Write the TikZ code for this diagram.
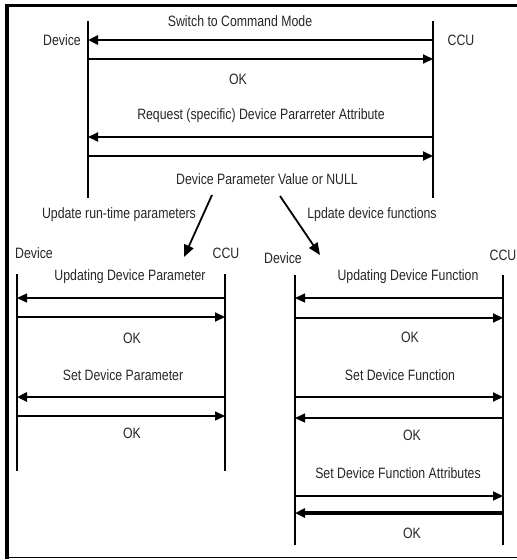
\documentclass[tikz,border=0pt]{standalone}
\usepackage{fontspec}
\setmainfont{Liberation Sans}[FakeStretch=0.82]
\usetikzlibrary{arrows.meta}
\begin{document}
\begin{tikzpicture}[x=1pt,y=-1pt,
  lifeline/.style={line width=1.4pt},
  tip/.style={-{Triangle[length=10pt,width=9pt]}},
  msg/.style={tip,line width=2pt},
  msgthin/.style={tip,line width=1.3pt},
  msgbold/.style={tip,line width=2.8pt},
  msgheavy/.style={tip,line width=3.6pt},
  cue/.style={line width=1.8pt,-{Triangle[length=12pt,width=10pt]}},
  lbl/.style={font=\fontsize{15}{17}\selectfont,inner sep=0pt,text=black!85}]
\useasboundingbox (0,0) rectangle (517,560);

% frame: heavy left edge, top rule, thin bottom rule
\draw[line width=3.5pt] (7,3.5) -- (7,559);
\draw[line width=2.5pt] (5.5,5.3) -- (517,5.3);
\draw[line width=1.5pt] (5.5,557.5) -- (517,557.5);

% ---------- command mode exchange ----------
\coordinate (dA1) at (88,21);  \coordinate (dA2) at (88,198);
\coordinate (cA1) at (433,21); \coordinate (cA2) at (433,198);
\draw[lifeline] (dA1) -- (dA2);
\draw[lifeline] (cA1) -- (cA2);

\node[lbl] (tSwitch) at (240,21) {Switch to Command Mode};
\node[lbl] (tDevA) at (62,40) {Device};
\node[lbl] (tCcuA) at (461,40) {CCU};
\node[lbl] (tOkA) at (238,79) {OK};
\node[lbl] (tReq) at (261,116) {Request (specific) Device Pararreter Attribute};
\node[lbl] (tVal) at (267,179) {Device Parameter Value or NULL};

\draw[msgbold] (cA1 |- 0,40) -- (dA1 |- 0,40);
\draw[msg] (dA1 |- 0,59) -- (cA1 |- 0,59);
\draw[msg] (cA1 |- 0,137) -- (dA1 |- 0,137);
\draw[msg] (dA1 |- 0,156) -- (cA1 |- 0,156);

% ---------- branch arrows ----------
\coordinate (bL1) at (212,195); \coordinate (bL2) at (184,257);
\coordinate (bR1) at (280,196); \coordinate (bR2) at (320,255);
\draw[cue] (bL1) -- (bL2);
\draw[cue] (bR1) -- (bR2);
\node[lbl] (tUpRt) at (119,215) {Update run-time parameters};
\node[lbl] (tUpFn) at (372,215) {Lpdate device functions};

% ---------- run-time parameter update ----------
\coordinate (dB1) at (17,274);  \coordinate (dB2) at (17,471);
\coordinate (cB1) at (225,274); \coordinate (cB2) at (225,471);
\draw[lifeline] (dB1) -- (dB2);
\draw[lifeline] (cB1) -- (cB2);

\node[lbl] (tDevB) at (34,253) {Device};
\node[lbl] (tCcuB) at (226,253) {CCU};
\node[lbl] (tUpdP) at (130,277) {Updating Device Parameter};
\node[lbl] (tOkB1) at (132,338) {OK};
\node[lbl] (tSetP) at (123,375) {Set Device Parameter};
\node[lbl] (tOkB2) at (132,433) {OK};

\draw[msgthin] (cB1 |- 0,298) -- (dB1 |- 0,298);
\draw[line width=2.6pt] (dB1 |- 0,298) ++(8,0) -- (183,298);
\draw[msg] (dB1 |- 0,317) -- (cB1 |- 0,317);
\draw[msgbold] (cB1 |- 0,397) -- (dB1 |- 0,397);
\draw[msgthin] (dB1 |- 0,416) -- (cB1 |- 0,416);

% ---------- device function update ----------
\coordinate (dC1) at (295,275); \coordinate (dC2) at (295,545);
\coordinate (cC1) at (503,275); \coordinate (cC2) at (503,545);
\draw[lifeline] (dC1) -- (dC2);
\draw[lifeline] (cC1) -- (cC2);

\node[lbl] (tDevC) at (283,258) {Device};
\node[lbl,anchor=east] (tCcuC) at (516.5,255) {CCU};
\node[lbl] (tUpdF) at (408,277) {Updating Device Function};
\node[lbl] (tOkC1) at (410,337) {OK};
\node[lbl] (tSetF) at (400,375) {Set Device Function};
\node[lbl] (tOkC2) at (412,435) {OK};
\node[lbl] (tSetFA) at (398,473) {Set Device Function Attributes};
\node[lbl] (tOkC3) at (412,533) {OK};

\draw[msgthin] (cC1 |- 0,298) -- (dC1 |- 0,298);
\draw[line width=2.6pt] (dC1 |- 0,298) ++(8,0) -- (460,298);
\draw[msg] (dC1 |- 0,318) -- (cC1 |- 0,318);
\draw[msg] (dC1 |- 0,397) -- (cC1 |- 0,397);
\draw[msgthin] (cC1 |- 0,418) -- (dC1 |- 0,418);
\draw[msg] (dC1 |- 0,496) -- (cC1 |- 0,496);
\draw[msgheavy] (cC1 |- 0,513) -- (dC1 |- 0,513);
\end{tikzpicture}
\end{document}
